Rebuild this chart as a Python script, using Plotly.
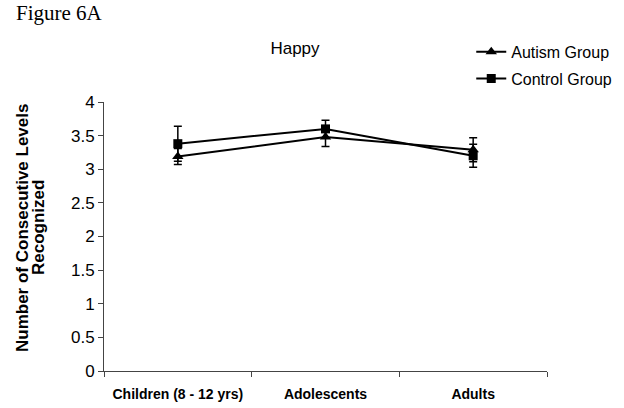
import plotly.graph_objects as go

categories = ["Children (8 - 12 yrs)", "Adolescents", "Adults"]
autism = [3.19, 3.48, 3.29]
autism_err = [0.12, 0.14, 0.18]
control = [3.38, 3.60, 3.20]
control_err = [0.26, 0.13, 0.17]
ytitle_lines = ["Number of Consecutive Levels", "Recognized"]

W, H = 624, 408
L, T, R_EDGE, B_EDGE = 104, 102, 547, 371
PW, PH = R_EDGE - L, B_EDGE - T

fig = go.Figure()
fig.add_trace(go.Scatter(
    x=categories, y=autism, name="Autism Group", mode="lines+markers",
    legendgroup="a",
    line=dict(color="black", width=2),
    marker=dict(symbol="triangle-up", size=10, color="black"),
    error_y=dict(type="data", array=autism_err, color="black", thickness=1.5, width=4),
))
fig.add_trace(go.Scatter(
    x=categories, y=control, name="Control Group", mode="lines+markers",
    legendgroup="b",
    line=dict(color="black", width=2),
    marker=dict(symbol="square", size=9, color="black"),
    error_y=dict(type="data", array=control_err, color="black", thickness=1.5, width=4),
))

fig.update_layout(
    width=W, height=H,
    margin=dict(l=L, r=W - R_EDGE, t=T, b=H - B_EDGE, autoexpand=False),
    paper_bgcolor="white", plot_bgcolor="white",
    font=dict(family="Arial, Liberation Sans, sans-serif", color="black"),
    title=dict(text="Happy", x=295 / W, xanchor="center", y=1 - 48 / H,
               yanchor="middle", font=dict(size=17, family="Arial, Liberation Sans, sans-serif")),
    showlegend=True,
    legend=dict(x=0.829, y=1.25, xanchor="left", yanchor="top",
                font=dict(size=16), bgcolor="rgba(0,0,0,0)", tracegroupgap=3,
                traceorder="grouped", itemwidth=30),
    xaxis=dict(type="category", tickson="boundaries", ticks="outside", ticklen=5,
               tickcolor="#444", showline=True, linecolor="#444", linewidth=1,
               showgrid=False, zeroline=False, automargin=False, tickangle=0,
               tickfont=dict(size=14, weight="bold"), ticklabelstandoff=10,
               range=[-0.5, 2.5]),
    yaxis=dict(range=[0, 4], dtick=0.5, ticks="outside", ticklen=5, tickcolor="#444",
               showline=True, linecolor="#444", linewidth=1, showgrid=False,
               zeroline=False, tickfont=dict(size=17), automargin=False),
)
for i, (line_text, px) in enumerate(zip(ytitle_lines, [22, 38])):
    fig.add_annotation(text="<b>" + line_text + "</b>", xref="paper", yref="paper",
                       x=(px - L) / PW, y=(B_EDGE - 228) / PH, xanchor="center",
                       yanchor="middle", textangle=-90, showarrow=False,
                       font=dict(size=17))
fig.add_annotation(text="Figure 6A", xref="paper", yref="paper",
                   x=(15 - L) / PW, y=(B_EDGE - 13) / PH, xanchor="left", yanchor="middle",
                   showarrow=False, borderpad=0,
                   font=dict(family="Times New Roman, Liberation Serif, serif", size=21))

fig.write_html("out.html", config={"displayModeBar": False},
               post_script="document.body.style.margin='0';")
